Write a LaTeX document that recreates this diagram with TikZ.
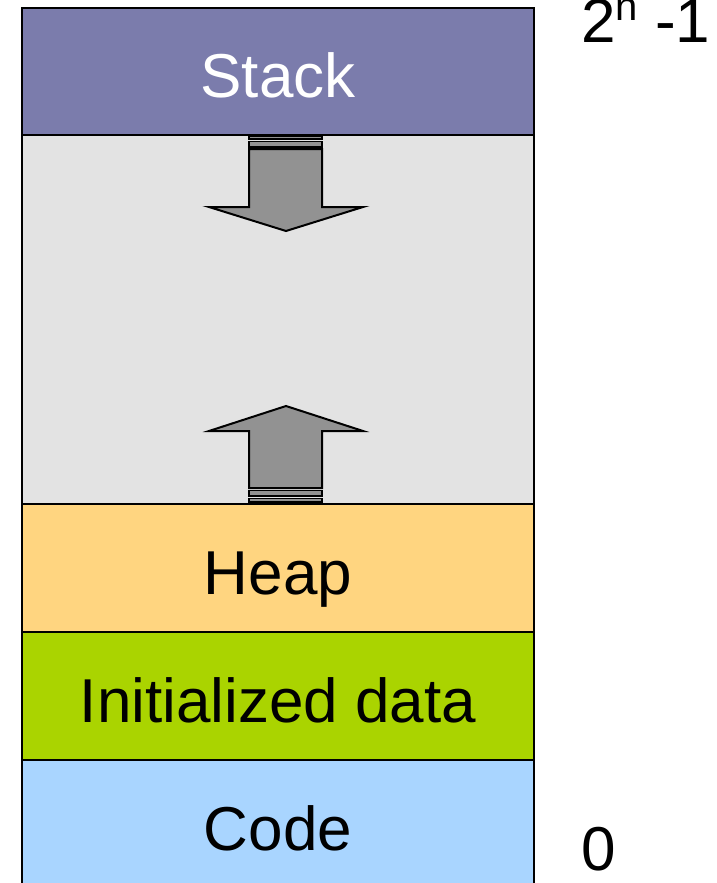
\documentclass[tikz,border=0pt]{standalone}
\usepackage{fontspec}
\setmainfont{Liberation Sans}
\definecolor{stackc}{HTML}{7B7CAC}
\definecolor{freec}{HTML}{E3E3E3}
\definecolor{heapc}{HTML}{FFD580}
\definecolor{datac}{HTML}{AAD400}
\definecolor{codec}{HTML}{A9D5FF}
\definecolor{arrowc}{HTML}{929292}
\tikzset{
  seg/.style={draw=black, line width=2pt, rectangle, minimum width=512pt, inner sep=0pt, anchor=north},
  lbl/.style={font=\fontsize{62}{70}\selectfont, anchor=base, inner sep=0pt},
  big/.style={draw=black, line width=2pt, fill=arrowc, line join=miter},
  bar/.style={draw=black, line width=1.5pt, fill=arrowc},
}
\begin{document}
\begin{tikzpicture}[x=1pt, y=-1pt]
\useasboundingbox (0,0) rectangle (717,883);
% memory segments, top to bottom
\node[seg, fill=stackc, minimum height=127pt] (stack) at (278,7) {};
\node[seg, fill=freec,  minimum height=369pt] (free)  at (278,134) {};
\node[seg, fill=heapc,  minimum height=128pt] (heap)  at (278,503) {};
\node[seg, fill=datac,  minimum height=128pt] (data)  at (278,631) {};
\node[seg, fill=codec,  minimum height=128pt] (code)  at (278,759) {};
% segment names
\node[lbl, text=white] (tstack) at (278,97) {Stack};
\node[lbl] (theap) at (278,594) {Heap};
\node[lbl] (tdata) at (278,722) {Initialized data};
\node[lbl] (tcode) at (278,850) {Code};
% address labels
\node[lbl, anchor=base west] (top) at (581,43) {2\raisebox{22pt}{\fontsize{40}{40}\selectfont n} -1};
\node[lbl, anchor=base west] (zero) at (581,870) {0};
% stack grows downward
\draw[bar] (249,136) rectangle (322,139);
\draw[bar] (249,141.5) rectangle (322,147);
\draw[big] (249,149) -- (322,149) -- (322,207) -- (363,207) -- (286,231)
  -- (209,207) -- (249,207) -- cycle;
% heap grows upward
\draw[big] (249,488) -- (322,488) -- (322,431) -- (363,431) -- (286,406)
  -- (209,431) -- (249,431) -- cycle;
\draw[bar] (249,490.5) rectangle (322,496);
\draw[bar] (249,498.5) rectangle (322,502);
\end{tikzpicture}
\end{document}
